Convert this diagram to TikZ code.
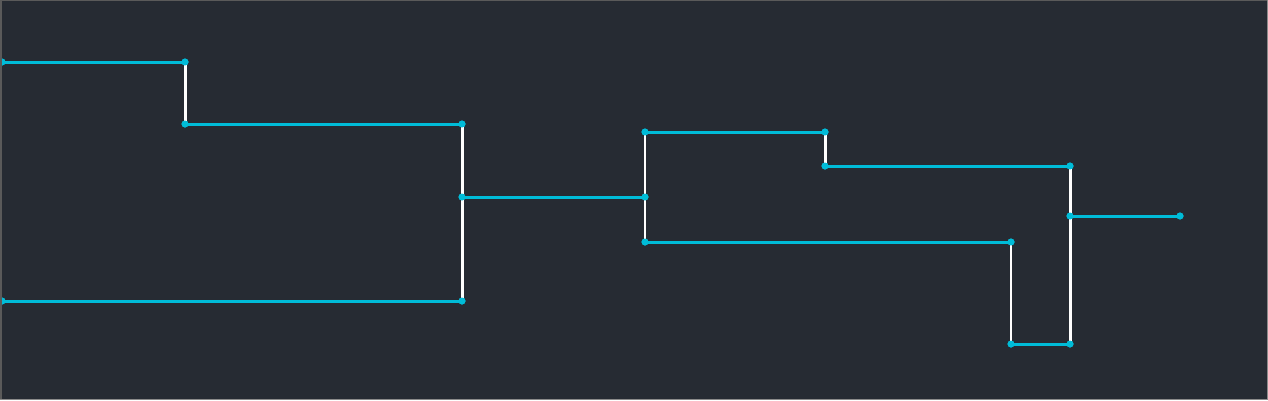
\documentclass[tikz,border=0pt]{standalone}
\definecolor{bg}{HTML}{262B33}
\definecolor{cy}{HTML}{00BCD8}
\definecolor{frame}{HTML}{5A5A5A}
\tikzset{
  pt/.style={circle,fill=cy,inner sep=0pt,minimum size=7pt},
  hl/.style={draw=cy,line width=3pt},
  vl/.style={draw=white,line width=3pt},
  vlt/.style={draw=white,line width=2pt},
}
\begin{document}
\begin{tikzpicture}[x=1pt,y=-1pt]
\fill[bg] (0,0) rectangle (1268,400);
\useasboundingbox (0,0) rectangle (1268,400);
% points
\node[pt] (a0) at (2,62) {};
\node[pt] (a1) at (185,62) {};
\node[pt] (b0) at (185,124) {};
\node[pt] (b1) at (462,124) {};
\node[pt] (c0) at (2,301) {};
\node[pt] (c1) at (462,301) {};
\node[pt] (m0) at (462,197) {};
\node[pt] (m1) at (645,197) {};
\node[pt] (d0) at (645,132) {};
\node[pt] (d1) at (825,132) {};
\node[pt] (e0) at (825,166) {};
\node[pt] (e1) at (1070,166) {};
\node[pt] (f0) at (645,242) {};
\node[pt] (f1) at (1011,242) {};
\node[pt] (g0) at (1011,344) {};
\node[pt] (g1) at (1070,344) {};
\node[pt] (h0) at (1070,216) {};
\node[pt] (h1) at (1180,216) {};
% verticals
\draw[vl] (a1.center) -- (b0.center);
\draw[vl] (b1.center) -- (c1.center);
\draw[vlt] (d0.center) -- (f0.center);
\draw[vl] (d1.center) -- (e0.center);
\draw[vlt] (f1.center) -- (g0.center);
\draw[vl] (e1.center) -- (g1.center);
% horizontals
\draw[hl] (a0.center) -- (a1.center);
\draw[hl] (b0.center) -- (b1.center);
\draw[hl] (c0.center) -- (c1.center);
\draw[hl] (m0.center) -- (m1.center);
\draw[hl] (d0.center) -- (d1.center);
\draw[hl] (e0.center) -- (e1.center);
\draw[hl] (f0.center) -- (f1.center);
\draw[hl] (g0.center) -- (g1.center);
\draw[hl] (h0.center) -- (h1.center);
% redraw dots on top
\foreach \n in {a0,a1,b0,b1,c0,c1,m0,m1,d0,d1,e0,e1,f0,f1,g0,g1,h0,h1}
  \fill[cy] (\n) circle (3.5pt);
% frame
\fill[frame] (0,0) rectangle (2,400);
\fill[frame] (0,0) rectangle (1268,1);
\fill[frame!70!white] (1267,0) rectangle (1268,400);
\fill[frame!70!white] (0,399) rectangle (1268,400);
\end{tikzpicture}
\end{document}
